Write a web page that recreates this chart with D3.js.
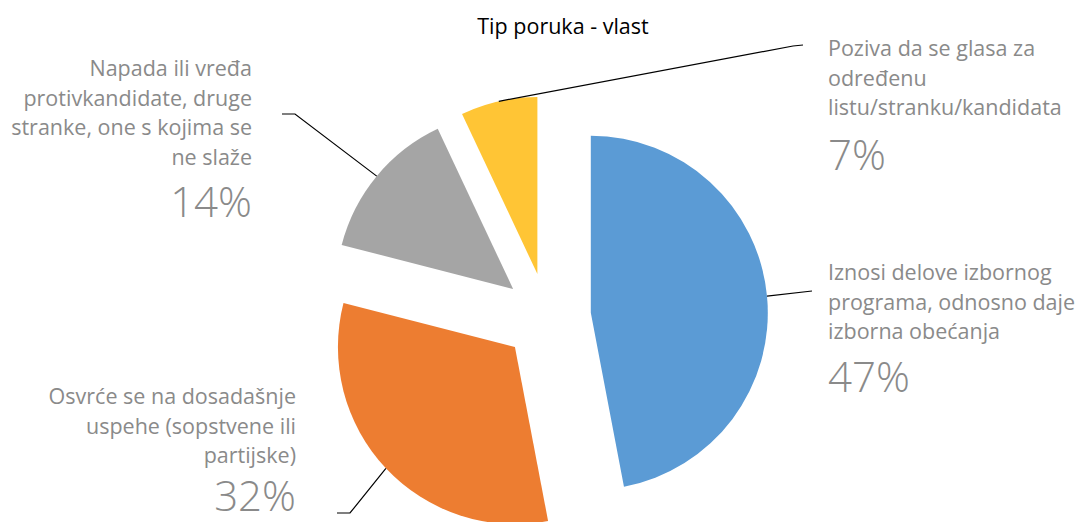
<!DOCTYPE html>
<html>
<head>
<meta charset="utf-8">
<script src="https://cdn.jsdelivr.net/npm/d3@7"></script>
<style>
  html, body { margin: 0; padding: 0; background: #fff; }
  svg { display: block; font-family: "Open Sans", "Noto Sans", sans-serif; }
  .lbl { fill: #8a8a8a; font-size: 21.5px; }
  .pct { fill: #8a8a8a; font-size: 42px; font-weight: 300; }
  .leader { fill: none; stroke: #000; stroke-width: 1.2; }
</style>
</head>
<body>
<script>
/* Tip poruka - vlast */

var categories = [
    "Iznosi delove izbornog programa, odnosno daje izborna obećanja",
    "Osvrće se na dosadašnje uspehe (sopstvene ili partijske)",
    "Napada ili vređa protivkandidate, druge stranke, one s kojima se ne slaže",
    "Poziva da se glasa za određenu listu/stranku/kandidata"
];
var labelLines = [
    ["Iznosi delove izbornog", "programa, odnosno daje", "izborna obećanja"],
    ["Osvrće se na dosadašnje", "uspehe (sopstvene ili", "partijske)"],
    ["Napada ili vređa", "protivkandidate, druge", "stranke, one s kojima se", "ne slaže"],
    ["Poziva da se glasa za", "određenu", "listu/stranku/kandidata"]
];
var values = [47, 32, 14, 7];
var colors = ["#5b9bd5", "#ed7d31", "#a5a5a5", "#ffc535"];

var width  = 1088;
var height = 522;
var cx = 547, cy = 317;
var radius  = 177;
var explode = 44;
var lineGap = 29.5;

// label layout: elbow points of leader, text anchor, first baseline
var layout = [
    { elbow: [[812, 291]],             x: 828, y: 280, anchor: "start", pctGap: 53 },
    { elbow: [[350, 513], [337, 513]], x: 296, y: 404, anchor: "end",   pctGap: 48 },
    { elbow: [[295, 114], [282, 114]], x: 252, y: 76,  anchor: "end",   pctGap: 52 },
    { elbow: [[793, 46], [803, 45]],   x: 828, y: 56,  anchor: "start", pctGap: 55 }
];

var svg = d3.select("body").append("svg")
    .attr("width", width)
    .attr("height", height);

svg.append("text")
    .attr("x", 563)
    .attr("y", 34)
    .attr("text-anchor", "middle")
    .style("font-size", "21.5px")
    .style("fill", "#000")
    .text("Tip poruka - vlast");

var pie = d3.pie().sort(null).value(d => d);
var arc = d3.arc().innerRadius(0).outerRadius(radius);
var arcs = pie(values);

var offset = (d, r) => {
    var a = (d.startAngle + d.endAngle) / 2;
    return [Math.sin(a) * r, -Math.cos(a) * r];
};

var g = svg.append("g").attr("transform", `translate(${cx},${cy})`);

g.selectAll("path")
    .data(arcs)
    .enter().append("path")
    .attr("d", arc)
    .attr("fill", (d, i) => colors[i])
    .attr("transform", d => {
        var o = offset(d, explode);
        return `translate(${o[0]},${o[1]})`;
    });

// leader lines start at outer edge of each slice, at its mid angle
arcs.forEach((d, i) => {
    var o  = offset(d, explode);
    var e  = offset(d, radius);
    var p0 = [cx + o[0] + e[0], cy + o[1] + e[1]];
    svg.append("path")
       .attr("class", "leader")
       .attr("d", d3.line()([p0].concat(layout[i].elbow)));

    var L = layout[i];
    var n = labelLines[i].length;
    var t = svg.append("text")
        .attr("class", "lbl")
        .attr("text-anchor", L.anchor);
    labelLines[i].forEach((line, k) => {
        t.append("tspan")
         .attr("x", L.x)
         .attr("y", L.y + k * lineGap)
         .text(line);
    });
    svg.append("text")
       .attr("class", "pct")
       .attr("text-anchor", L.anchor)
       .attr("x", L.x)
       .attr("y", L.y + (n - 1) * lineGap + L.pctGap)
       .text(values[i] + "%");
});
</script>
</body>
</html>
